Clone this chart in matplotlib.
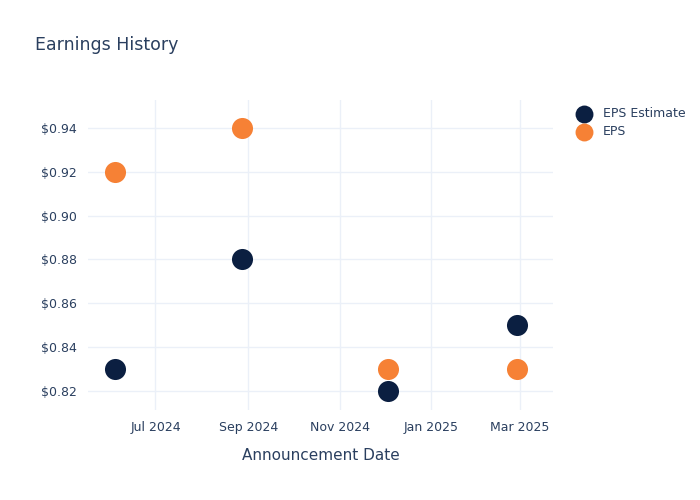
import matplotlib.pyplot as plt
import numpy as np

# Data
dates = np.array(['2024-06-04', '2024-08-28', '2024-12-03', '2025-02-27'], dtype='datetime64[D]')
eps_estimate = [0.83, 0.88, 0.82, 0.85]
eps_actual = [0.92, 0.94, 0.83, 0.83]

tick_dates = np.array(['2024-07-01', '2024-09-01', '2024-11-01', '2025-01-01', '2025-03-01'], dtype='datetime64[D]')
tick_labels = ['Jul 2024', 'Sep 2024', 'Nov 2024', 'Jan 2025', 'Mar 2025']
y_ticks = [0.82, 0.84, 0.86, 0.88, 0.90, 0.92, 0.94]

text_color = '#2a3f5f'
grid_color = '#ebf0f8'

fig = plt.figure(figsize=(7, 5), dpi=100)
ax = fig.add_axes([0.1257, 0.18, 0.664, 0.62])

ax.scatter(dates, eps_estimate, s=230, color='#0b1f41', zorder=3, label='EPS Estimate', linewidths=0)
ax.scatter(dates, eps_actual, s=230, color='#f68135', zorder=3, label='EPS', linewidths=0)

ax.set_xlim(np.datetime64('2024-05-17'), np.datetime64('2025-03-23'))
ax.set_ylim(0.8113, 0.9528)

ax.set_xticks(tick_dates)
ax.set_xticklabels(tick_labels)
ax.set_yticks(y_ticks)
ax.set_yticklabels(['$%.2f' % v for v in y_ticks])

ax.grid(True, color=grid_color, linewidth=1)
ax.set_axisbelow(True)
for sp in ax.spines.values():
    sp.set_visible(False)
ax.tick_params(length=0, labelsize=9, colors=text_color, pad=8)

ax.set_xlabel('Announcement Date', fontsize=11, color=text_color, labelpad=10)

fig.text(0.05, 0.91, 'Earnings History', fontsize=12.5, color=text_color, ha='left', va='center')

leg = ax.legend(loc='upper left', bbox_to_anchor=(1.015, 1.013), frameon=False,
                fontsize=9, labelcolor=text_color, handletextpad=0.55, markerscale=0.85,
                labelspacing=0.42)

fig.savefig('out.png', dpi=100)
